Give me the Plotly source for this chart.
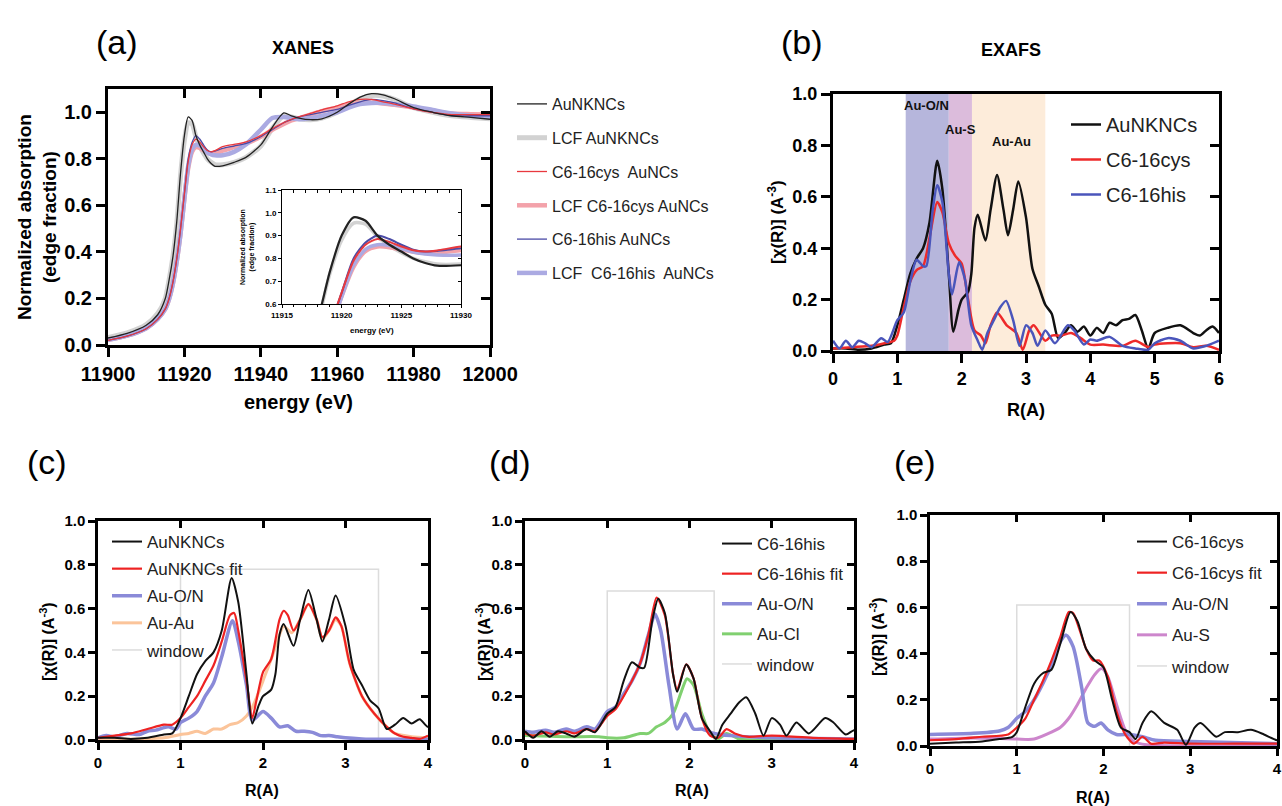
import plotly.graph_objects as go

W, H = 1282, 806
FONT = "Arial, Liberation Sans, Helvetica, sans-serif"

# ---------------- XANES data (panel a) ----------------
energy = [11900, 11905, 11910, 11913, 11915, 11916, 11917, 11918, 11919, 11920, 11921, 11922, 11923,
          11924, 11925, 11926, 11927, 11928, 11930, 11933, 11936, 11940, 11943, 11946, 11948, 11950,
          11953, 11956, 11960, 11963, 11966, 11969, 11972, 11975, 11980, 11985, 11990, 11995, 12000]
xanes_aunk = [0.03, 0.05, 0.085, 0.13, 0.2, 0.28, 0.38, 0.53, 0.74, 0.90, 0.98, 0.965, 0.9, 0.86, 0.83,
              0.80, 0.78, 0.768, 0.77, 0.785, 0.805, 0.86, 0.935, 0.997, 0.985, 0.975, 0.968, 0.972,
              1.0, 1.035, 1.065, 1.08, 1.075, 1.058, 1.02, 1.0, 0.985, 0.978, 0.97]
xanes_lcf_aunk = [0.032, 0.052, 0.088, 0.135, 0.2, 0.28, 0.38, 0.52, 0.73, 0.88, 0.955, 0.95, 0.895,
                  0.855, 0.825, 0.80, 0.785, 0.775, 0.775, 0.785, 0.805, 0.855, 0.93, 0.985, 0.98,
                  0.972, 0.968, 0.975, 1.0, 1.03, 1.058, 1.072, 1.07, 1.055, 1.02, 1.0, 0.985, 0.978, 0.972]
xanes_cys = [0.02, 0.038, 0.07, 0.11, 0.155, 0.2, 0.27, 0.37, 0.5, 0.65, 0.79, 0.86, 0.885, 0.872, 0.852,
             0.836, 0.83, 0.835, 0.852, 0.862, 0.872, 0.9, 0.93, 0.955, 0.97, 0.98, 0.995, 1.01, 1.028,
             1.045, 1.055, 1.055, 1.045, 1.035, 1.015, 1.0, 0.99, 0.99, 0.99]
xanes_lcf_cys = [0.022, 0.04, 0.072, 0.112, 0.155, 0.198, 0.265, 0.36, 0.48, 0.63, 0.76, 0.83, 0.85,
                 0.847, 0.837, 0.827, 0.822, 0.823, 0.835, 0.85, 0.865, 0.895, 0.925, 0.95, 0.965, 0.975,
                 0.99, 1.005, 1.02, 1.033, 1.04, 1.042, 1.038, 1.032, 1.02, 1.005, 0.995, 0.992, 0.99]
xanes_his = [0.02, 0.038, 0.07, 0.11, 0.155, 0.2, 0.27, 0.37, 0.5, 0.65, 0.8, 0.87, 0.9, 0.885, 0.86,
             0.838, 0.83, 0.833, 0.845, 0.855, 0.865, 0.895, 0.925, 0.955, 0.968, 0.98, 0.99, 1.0,
             1.012, 1.03, 1.045, 1.055, 1.05, 1.04, 1.015, 1.0, 0.985, 0.985, 0.985]
xanes_lcf_his = [0.022, 0.04, 0.072, 0.112, 0.155, 0.198, 0.265, 0.36, 0.48, 0.63, 0.77, 0.84, 0.86,
                 0.857, 0.843, 0.828, 0.819, 0.815, 0.815, 0.83, 0.86, 0.925, 0.975, 0.98, 0.975, 0.97,
                 0.975, 0.985, 1.0, 1.02, 1.035, 1.04, 1.04, 1.035, 1.025, 1.01, 0.995, 0.985, 0.98]

# ---------------- EXAFS data ----------------
aunk_R = [0, 0.2, 0.4, 0.6, 0.8, 0.9, 1.0, 1.1, 1.2, 1.3, 1.4, 1.5, 1.62, 1.7, 1.8, 1.87, 1.95, 2.0, 2.1,
          2.15, 2.2, 2.25, 2.37, 2.45, 2.55, 2.65, 2.72, 2.8, 2.88, 3.0, 3.1, 3.2, 3.3, 3.4, 3.5, 3.6,
          3.7, 3.8, 3.9, 4.0, 4.1, 4.2, 4.3, 4.4, 4.5, 4.6, 4.7, 4.8, 4.9, 5.0, 5.2, 5.4, 5.6, 5.7,
          5.8, 5.9, 6.0]
aunk_chi = [0.01, 0.01, 0.005, 0.01, 0.025, 0.03, 0.1, 0.2, 0.3, 0.36, 0.4, 0.5, 0.74, 0.63, 0.3, 0.075,
            0.16, 0.2, 0.23, 0.3, 0.48, 0.53, 0.43, 0.55, 0.685, 0.55, 0.45, 0.55, 0.66, 0.52, 0.32,
            0.25, 0.18, 0.145, 0.05, 0.07, 0.1, 0.075, 0.095, 0.06, 0.09, 0.07, 0.11, 0.1, 0.12, 0.125,
            0.14, 0.08, 0.01, 0.07, 0.09, 0.1, 0.07, 0.06, 0.08, 0.095, 0.07]

cys_R = [0, 0.3, 0.6, 0.8, 0.95, 1.0, 1.1, 1.2, 1.3, 1.4, 1.5, 1.62, 1.7, 1.8, 1.9, 2.0, 2.1, 2.2, 2.3,
         2.37, 2.45, 2.55, 2.7, 2.85, 2.95, 3.05, 3.12, 3.3, 3.4, 3.55, 3.7, 3.85, 4.0, 4.2, 4.5, 4.7,
         4.9, 5.0, 5.2, 5.4, 5.6, 5.8, 6.0]
cys_chi = [0.01, 0.015, 0.02, 0.03, 0.04, 0.06, 0.17, 0.27, 0.315, 0.33, 0.44, 0.58, 0.54, 0.42, 0.37,
           0.34, 0.2, 0.08, 0.06, 0.03, 0.1, 0.15, 0.1, 0.07, 0.005, 0.08, 0.1, 0.04, 0.06, 0.06, 0.07,
           0.05, 0.025, 0.025, 0.02, 0.04, 0.015, 0.025, 0.03, 0.03, 0.015, 0.02, 0.005]

his_R = [0, 0.1, 0.2, 0.3, 0.4, 0.5, 0.6, 0.75, 0.85, 1.0, 1.1, 1.2, 1.3, 1.4, 1.45, 1.55, 1.62, 1.7,
         1.8, 1.85, 1.96, 2.05, 2.15, 2.25, 2.32, 2.4, 2.5, 2.6, 2.69, 2.8, 2.9, 3.0, 3.1, 3.18, 3.3,
         3.45, 3.65, 3.75, 3.9, 4.0, 4.1, 4.3, 4.5, 4.7, 4.9, 5.0, 5.2, 5.4, 5.6, 5.8, 6.0]
his_chi = [0.04, 0.01, 0.04, 0.015, 0.04, 0.03, 0.015, 0.05, 0.035, 0.12, 0.15, 0.27, 0.355, 0.33, 0.33,
           0.55, 0.645, 0.58, 0.3, 0.22, 0.345, 0.28, 0.1, 0.04, 0.005, 0.07, 0.12, 0.17, 0.195, 0.12,
           0.02, 0.1, 0.07, 0.02, 0.08, 0.03, 0.1, 0.08, 0.025, 0.045, 0.04, 0.055, 0.02, 0.01, 0.005,
           0.03, 0.05, 0.04, 0.01, 0.02, 0.04]

# panel c fit components
aunk_fit_R = [0, 0.2, 0.4, 0.6, 0.8, 0.9, 1.0, 1.1, 1.2, 1.3, 1.4, 1.5, 1.6, 1.65, 1.7, 1.8, 1.87, 1.92,
              2.0, 2.1, 2.2, 2.25, 2.3, 2.37, 2.45, 2.55, 2.65, 2.72, 2.8, 2.88, 2.95, 3.05, 3.2, 3.35,
              3.5, 3.6, 3.7, 3.8, 3.9, 4.0]
aunk_fit_chi = [0.01, 0.02, 0.03, 0.05, 0.07, 0.07, 0.1, 0.15, 0.2, 0.27, 0.34, 0.45, 0.57, 0.58, 0.5,
                0.27, 0.1, 0.18, 0.31, 0.37, 0.55, 0.59, 0.57, 0.5, 0.55, 0.62, 0.55, 0.47, 0.5, 0.56,
                0.52, 0.35, 0.2, 0.12, 0.06, 0.03, 0.015, 0.01, 0.005, 0.02]
c_auon_R = [0, 0.1, 0.2, 0.35, 0.5, 0.6, 0.7, 0.85, 0.95, 1.0, 1.1, 1.2, 1.3, 1.4, 1.5, 1.63, 1.7, 1.8,
            1.87, 2.0, 2.1, 2.2, 2.3, 2.4, 2.5, 2.6, 2.7, 2.8, 2.9, 3.0, 3.2, 3.5, 4.0]
c_auon_chi = [0.01, 0.02, 0.015, 0.03, 0.025, 0.04, 0.045, 0.06, 0.05, 0.08, 0.1, 0.13, 0.2, 0.26, 0.38,
              0.545, 0.45, 0.25, 0.09, 0.13, 0.1, 0.06, 0.065, 0.04, 0.04, 0.035, 0.02, 0.02, 0.015,
              0.01, 0.005, 0.003, 0.003]
c_auau_R = [0, 0.5, 0.8, 1.0, 1.1, 1.2, 1.3, 1.4, 1.5, 1.6, 1.7, 1.8, 1.87, 1.95, 2.0, 2.1, 2.2, 2.25,
            2.35, 2.45, 2.55, 2.65, 2.72, 2.8, 2.88, 2.95, 3.05, 3.2, 3.35, 3.5, 3.6, 3.8, 4.0]
c_auau_chi = [0.0, 0.005, 0.01, 0.025, 0.03, 0.04, 0.03, 0.05, 0.05, 0.07, 0.08, 0.11, 0.15, 0.22, 0.27,
              0.37, 0.48, 0.52, 0.49, 0.55, 0.62, 0.55, 0.46, 0.5, 0.55, 0.52, 0.35, 0.2, 0.12, 0.06,
              0.03, 0.015, 0.01]

# panel d fit components
his_fit_R = [0, 0.1, 0.25, 0.35, 0.5, 0.6, 0.75, 0.85, 1.0, 1.1, 1.2, 1.3, 1.4, 1.5, 1.6, 1.7, 1.8,
             1.85, 1.96, 2.05, 2.15, 2.25, 2.35, 2.45, 2.55, 2.7, 3.0, 3.5, 4.0]
his_fit_chi = [0.03, 0.02, 0.035, 0.025, 0.04, 0.03, 0.05, 0.04, 0.11, 0.14, 0.2, 0.27, 0.35, 0.48,
               0.65, 0.57, 0.3, 0.23, 0.345, 0.28, 0.1, 0.02, 0.01, 0.05, 0.03, 0.015, 0.02, 0.01, 0.005]
d_auon_R = [0, 0.1, 0.25, 0.35, 0.5, 0.6, 0.75, 0.85, 1.0, 1.1, 1.2, 1.3, 1.4, 1.5, 1.58, 1.65, 1.75,
            1.85, 1.95, 2.05, 2.15, 2.3, 2.5, 3.0, 4.0]
d_auon_chi = [0.04, 0.035, 0.045, 0.035, 0.05, 0.04, 0.06, 0.05, 0.13, 0.15, 0.21, 0.27, 0.35, 0.48,
              0.575, 0.5, 0.25, 0.05, 0.12, 0.05, 0.05, 0.03, 0.02, 0.01, 0.005]
d_aucl_R = [0, 0.5, 0.9, 1.0, 1.2, 1.4, 1.5, 1.6, 1.7, 1.8, 1.9, 1.97, 2.05, 2.15, 2.25, 2.35, 2.45,
            2.6, 3.0, 4.0]
d_aucl_chi = [0.02, 0.015, 0.015, 0.01, 0.01, 0.03, 0.03, 0.06, 0.08, 0.12, 0.22, 0.28, 0.25, 0.12,
              0.03, 0.005, 0.03, 0.005, 0.0, 0.0]

# panel e fit components
cys_fit_R = [0, 0.3, 0.6, 0.9, 1.0, 1.1, 1.2, 1.3, 1.4, 1.5, 1.6, 1.65, 1.7, 1.8, 1.88, 1.95, 2.05,
             2.15, 2.25, 2.35, 2.45, 2.55, 2.7, 3.0, 3.5, 4.0]
cys_fit_chi = [0.025, 0.03, 0.04, 0.05, 0.08, 0.12, 0.2, 0.28, 0.37, 0.47, 0.58, 0.575, 0.53, 0.42,
               0.37, 0.37, 0.3, 0.15, 0.05, 0.01, 0.04, 0.01, 0.015, 0.01, 0.01, 0.01]
e_auon_R = [0, 0.5, 0.8, 0.9, 1.0, 1.1, 1.2, 1.3, 1.4, 1.5, 1.57, 1.65, 1.75, 1.82, 1.9, 1.97, 2.05,
            2.15, 2.3, 2.45, 2.6, 3.0, 4.0]
e_auon_chi = [0.05, 0.055, 0.065, 0.08, 0.12, 0.15, 0.2, 0.27, 0.35, 0.45, 0.48, 0.43, 0.25, 0.1,
              0.085, 0.1, 0.07, 0.05, 0.05, 0.04, 0.025, 0.02, 0.01]
e_aus_R = [0, 0.5, 1.0, 1.2, 1.4, 1.5, 1.6, 1.7, 1.8, 1.9, 1.98, 2.05, 2.15, 2.25, 2.35, 2.5, 3.0, 4.0]
e_aus_chi = [0.03, 0.035, 0.03, 0.03, 0.06, 0.08, 0.12, 0.18, 0.25, 0.31, 0.335, 0.3, 0.18, 0.07, 0.02,
             0.005, 0.0, 0.0]

# fitting windows [R_min, R_max, height]
window_c = [1.0, 3.4, 0.78]
window_d = [1.0, 2.3, 0.68]
window_e = [1.0, 2.3, 0.61]

# shaded regions in panel b
region_names = ["Au-O/N", "Au-S", "Au-Au"]
region_start = [1.13, 1.80, 2.16]
region_end = [1.80, 2.16, 3.30]
region_label_R = [1.46, 1.98, 2.77]
region_label_y = [0.955, 0.86, 0.815]
region_colors = ["#b6b6dc", "#dcbcdc", "#fdecda"]

fig = go.Figure()

def line(x, y, xa, ya, color, width, name=None, legend=None, rank=1000, smooth=0.7):
    fig.add_trace(go.Scatter(
        x=x, y=y, xaxis=xa, yaxis=ya, mode="lines",
        line=dict(color=color, width=width, shape="spline", smoothing=smooth),
        name=name, showlegend=legend is not None, legend=legend or "legend",
        legendgroup=(name + (legend or "")) if name else None, legendrank=rank,
        hoverinfo="skip"))

def window_trace(win, xa, ya, legend, rank):
    wx = [win[0], win[0], win[1], win[1]]
    wy = [0, win[2], win[2], 0]
    fig.add_trace(go.Scatter(x=wx, y=wy, xaxis=xa, yaxis=ya, mode="lines",
                             line=dict(color="#dcdcdc", width=1.5), name="window",
                             legend=legend, legendgroup="window" + legend, legendrank=rank,
                             hoverinfo="skip"))

# ---- panel a main ----
xanes_series = [
    ("AuNKNCs", xanes_aunk, "#222222", 1.3, 1, 6),
    ("LCF AuNKNCs", xanes_lcf_aunk, "#d2d2d2", 5, 2, 1),
    ("C6-16cys  AuNCs", xanes_cys, "#e8393e", 1.3, 3, 5),
    ("LCF C6-16cys AuNCs", xanes_lcf_cys, "#f3a2aa", 4.5, 4, 2),
    ("C6-16his AuNCs", xanes_his, "#4a4aa6", 1.3, 5, 4),
    ("LCF  C6-16his  AuNCs", xanes_lcf_his, "#abaae2", 4.5, 6, 3),
]
for name, ys, col, w, rank, order in sorted(xanes_series, key=lambda s: s[5]):
    line(energy, ys, "x", "y", col, w, name, "legend", rank)
# inset
for name, ys, col, w, rank, order in sorted(xanes_series, key=lambda s: s[5]):
    line(energy, ys, "x2", "y2", col, (2 if w < 2 else 3.5) if name != "AuNKNCs" else 2.2)

# ---- panel b ----
line(aunk_R, aunk_chi, "x3", "y3", "#111111", 2.5, "AuNKNCs", "legend2", 1)
line(cys_R, cys_chi, "x3", "y3", "#ee2a2a", 2.5, "C6-16cys", "legend2", 2)
line(his_R, his_chi, "x3", "y3", "#4a55bb", 2.5, "C6-16his", "legend2", 3)

# ---- panel c ----
window_trace(window_c, "x4", "y4", "legend3", 5)
line(c_auau_R, c_auau_chi, "x4", "y4", "#fbc49a", 3, "Au-Au", "legend3", 4)
line(c_auon_R, c_auon_chi, "x4", "y4", "#8a8ad8", 3.5, "Au-O/N", "legend3", 3)
line(aunk_fit_R, aunk_fit_chi, "x4", "y4", "#ee2222", 2.2, "AuNKNCs fit", "legend3", 2)
line(aunk_R, aunk_chi, "x4", "y4", "#111111", 2, "AuNKNCs", "legend3", 1)

# ---- panel d ----
window_trace(window_d, "x5", "y5", "legend4", 5)
line(d_aucl_R, d_aucl_chi, "x5", "y5", "#80d070", 3, "Au-Cl", "legend4", 4)
line(d_auon_R, d_auon_chi, "x5", "y5", "#8a8ad8", 3.5, "Au-O/N", "legend4", 3)
line(his_fit_R, his_fit_chi, "x5", "y5", "#ee2222", 2.2, "C6-16his fit", "legend4", 2)
line(his_R, his_chi, "x5", "y5", "#111111", 2, "C6-16his", "legend4", 1)

# ---- panel e ----
window_trace(window_e, "x6", "y6", "legend5", 5)
line(e_aus_R, e_aus_chi, "x6", "y6", "#cd86cc", 3, "Au-S", "legend5", 4)
line(e_auon_R, e_auon_chi, "x6", "y6", "#8a8ad8", 3.5, "Au-O/N", "legend5", 3)
line(cys_fit_R, cys_fit_chi, "x6", "y6", "#ee2222", 2.2, "C6-16cys fit", "legend5", 2)
line(cys_R, cys_chi, "x6", "y6", "#111111", 2, "C6-16cys", "legend5", 1)

# regions in b
for nm, s, e, c, lr, ly in zip(region_names, region_start, region_end, region_colors,
                               region_label_R, region_label_y):
    fig.add_shape(type="rect", xref="x3", yref="y3 domain", x0=s, x1=e, y0=0, y1=1,
                  fillcolor=c, line_width=0, layer="below")
    fig.add_annotation(text=f"<b>{nm}</b>", x=lr, y=ly, xref="x3", yref="y3", showarrow=False,
                       font=dict(family=FONT, size=13, color="#111111"))

def px_dom(xr, yr):
    return [xr[0] / W, xr[1] / W], [1 - yr[1] / H, 1 - yr[0] / H]

def base_axis(dom, rng, size, lw, tl, dtick, fmt, anchor):
    return dict(domain=dom, range=rng, anchor=anchor, showline=True, linecolor="black",
                linewidth=lw, mirror=True, ticks="outside", ticklen=tl, tickwidth=lw,
                tickcolor="black", showgrid=False, zeroline=False, dtick=dtick, tick0=rng[0],
                tickformat=fmt, tickfont=dict(family=FONT, size=size, color="black", weight="bold"),
                ticklabeloverflow="allow", fixedrange=True)

def inward(over, side, anchor, rng, vals, lw, tl):
    return dict(overlaying=over, side=side, anchor=anchor, range=rng, tickmode="array",
                tickvals=vals, ticks="inside", ticklen=tl, tickwidth=lw,
                tickcolor="black", showticklabels=False, showline=False, showgrid=False,
                zeroline=False, fixedrange=True)

xa, ya = px_dom([108, 490], [89, 345])
xi, yi = px_dom([282, 461], [190, 304])
xb, yb = px_dom([833, 1219], [94, 351])
xc, yc = px_dom([98, 428], [521, 740])
xd, yd = px_dom([525, 854], [521, 740])
xe, ye = px_dom([930, 1277], [515, 746])

rng_a = [11900, 12000]
rng_ay = [0, 1.1]
rng_i = [11915, 11930]
rng_iy = [0.6, 1.1]
rng_R6 = [0, 6]
rng_R4 = [0, 4]
rng_chi = [0, 1.0]

lay = dict(
    xaxis=base_axis(xa, rng_a, 20, 3, 9, 20, "d", "y"),
    yaxis=base_axis(ya, rng_ay, 20, 3, 9, 0.2, ".1f", "x"),
    xaxis2=base_axis(xi, rng_i, 8, 1, 3, 5, "d", "y2"),
    yaxis2=base_axis(yi, rng_iy, 8, 1, 3, 0.1, ".1f", "x2"),
    xaxis3=base_axis(xb, rng_R6, 18, 3, 9, 1, "d", "y3"),
    yaxis3=base_axis(yb, rng_chi, 18, 3, 9, 0.2, ".1f", "x3"),
    xaxis4=base_axis(xc, rng_R4, 15, 2.5, 7, 1, "d", "y4"),
    yaxis4=base_axis(yc, rng_chi, 15, 2.5, 7, 0.2, ".1f", "x4"),
    xaxis5=base_axis(xd, rng_R4, 15, 2.5, 7, 1, "d", "y5"),
    yaxis5=base_axis(yd, rng_chi, 15, 2.5, 7, 0.2, ".1f", "x5"),
    xaxis6=base_axis(xe, rng_R4, 15, 2.5, 7, 1, "d", "y6"),
    yaxis6=base_axis(ye, rng_chi, 15, 2.5, 7, 0.2, ".1f", "x6"),
)
lay["xaxis2"]["minor"] = dict(dtick=1, ticks="outside", ticklen=2, tickwidth=1, tickcolor="black")

# inward ticks on top / right edges (overlay axes, each with an invisible anchor trace)
inward_specs = [
    ("xaxis7", "x", "top", "y", rng_a, [11920, 11940, 11960, 11980], 3, 9, "x7", "y", rng_ay),
    ("yaxis7", "y", "right", "x", rng_ay, [0.2, 0.4, 0.6, 0.8, 1.0], 3, 9, "x", "y7", rng_a),
    ("xaxis8", "x2", "top", "y2", rng_i, list(range(11916, 11930)), 1, 3, "x8", "y2", rng_iy),
    ("yaxis8", "y2", "right", "x2", rng_iy, [0.7, 0.8, 0.9, 1.0], 1, 3, "x2", "y8", rng_i),
    ("yaxis9", "y3", "right", "x3", rng_chi, [0.2, 0.4, 0.6, 0.8], 3, 9, "x3", "y9", rng_R6),
    ("xaxis10", "x4", "top", "y4", rng_R4, [1, 2, 3], 2.5, 7, "x10", "y4", rng_chi),
    ("yaxis10", "y4", "right", "x4", rng_chi, [0.2, 0.4, 0.6, 0.8], 2.5, 7, "x4", "y10", rng_R4),
    ("xaxis11", "x5", "top", "y5", rng_R4, [1, 2, 3], 2.5, 7, "x11", "y5", rng_chi),
    ("yaxis11", "y5", "right", "x5", rng_chi, [0.2, 0.4, 0.6, 0.8], 2.5, 7, "x5", "y11", rng_R4),
    ("xaxis12", "x6", "top", "y6", rng_R4, [1, 2, 3], 2.5, 7, "x12", "y6", rng_chi),
    ("yaxis12", "y6", "right", "x6", rng_chi, [0.2, 0.4, 0.6, 0.8], 2.5, 7, "x6", "y12", rng_R4),
]
for key, over, side, anchor, rng, vals, lw, tl, tx, ty, other in inward_specs:
    lay[key] = inward(over, side, anchor, rng, vals, lw, tl)
    if key.startswith("x"):
        px, py = [rng[0]], [other[0]]
    else:
        px, py = [other[0]], [rng[0]]
    fig.add_trace(go.Scatter(x=px, y=py, xaxis=tx, yaxis=ty, mode="markers",
                             marker=dict(opacity=0, size=1), showlegend=False, hoverinfo="skip"))

fig.update_layout(**lay)

def leg(x, y, size, gap):
    return dict(x=x / W, y=1 - y / H, xanchor="left", yanchor="top", bgcolor="rgba(0,0,0,0)",
                font=dict(family=FONT, size=size, color="#222222"), traceorder="grouped",
                tracegroupgap=gap, itemclick=False, itemdoubleclick=False)

fig.update_layout(
    width=W, height=H, margin=dict(l=0, r=0, t=0, b=0, autoexpand=False),
    paper_bgcolor="white", plot_bgcolor="white", showlegend=True,
    legend=leg(512, 87, 16, 10),
    legend2=leg(1066, 105, 20, 6),
    legend3=leg(107, 524, 17, 2),
    legend4=leg(717, 526, 17, 5),
    legend5=leg(1132, 524, 17, 6),
)

def ann(text, x, y, size, bold=False, angle=0):
    fig.add_annotation(text=f"<b>{text}</b>" if bold else text, x=x / W, y=1 - y / H,
                       xref="paper", yref="paper", xanchor="center", yanchor="middle",
                       showarrow=False, textangle=angle,
                       font=dict(family=FONT, size=size, color="black"))

ytitle = "[χ(R)] (A<sup>-3</sup>)"
ann("(a)", 117, 42, 34)
ann("XANES", 303, 48, 18, True)
ann("(b)", 802, 42, 34)
ann("EXAFS", 1011, 50, 18, True)
ann("(c)", 47, 462, 34)
ann("(d)", 510, 462, 34)
ann("(e)", 915, 462, 34)
ann("Normalized absorption<br>(edge fraction)", 37, 217, 19, True, -90)
ann("energy (eV)", 298, 402, 20, True)
ann("Normalized absorption<br>(edge fraction)", 248, 247, 7, True, -90)
ann("energy (eV)", 372, 330, 8, True)
ann(ytitle, 776, 222, 17, True, -90)
ann("R(A)", 1026, 410, 18, True)
ann(ytitle, 47, 642, 16, True, -90)
ann("R(A)", 262, 790, 16, True)
ann(ytitle, 483, 642, 16, True, -90)
ann("R(A)", 692, 790, 16, True)
ann(ytitle, 877, 637, 16, True, -90)
ann("R(A)", 1093, 797, 16, True)

fig.write_html("out.html", config={"displayModeBar": False},
               post_script="document.body.style.margin='0';document.body.style.overflow='hidden';")
